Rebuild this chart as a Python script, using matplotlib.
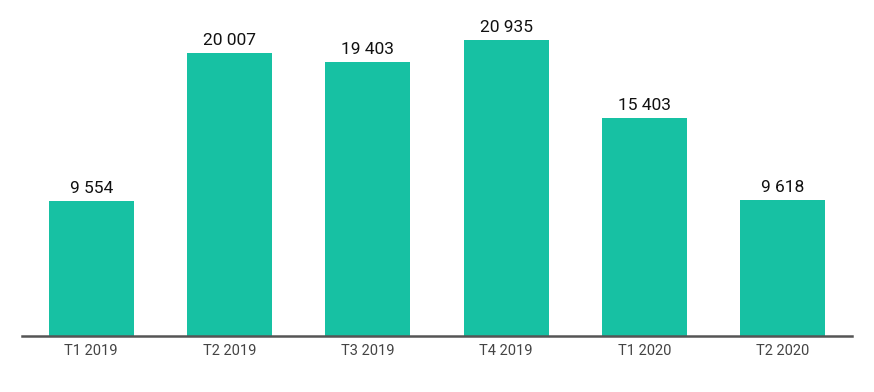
import matplotlib
matplotlib.use("Agg")
import matplotlib.pyplot as plt

plt.rcParams['font.family'] = ['Roboto', 'DejaVu Sans']

categories = ["T1 2019", "T2 2019", "T3 2019", "T4 2019", "T1 2020", "T2 2020"]
values = [9554, 20007, 19403, 20935, 15403, 9618]

fig = plt.figure(figsize=(8.74, 3.92), dpi=100)
# axes: x from 22px to 852px, y from 336px (baseline) up to 10px
ax = fig.add_axes([22 / 874, (392 - 336) / 392, 830 / 874, 326 / 392])

x = list(range(len(categories)))
bars = ax.bar(x, values, width=0.615, color="#17c1a3", zorder=2)

for xi, v in zip(x, values):
    ax.text(xi, v + 350, "{:,}".format(v).replace(",", " "),
            ha="center", va="bottom", fontsize=12.5, color="#111111")

ax.set_xlim(-0.5, len(categories) - 0.5)
ax.set_ylim(0, 326 * 20935 / 296)
ax.set_xticks(x)
ax.set_xticklabels(categories, fontsize=10.5, color="#444444")
ax.tick_params(axis="x", length=0, pad=6)
ax.set_yticks([])

for s in ["top", "right", "left"]:
    ax.spines[s].set_visible(False)
ax.spines["bottom"].set_color("#555555")
ax.spines["bottom"].set_linewidth(1.8)
ax.spines["bottom"].set_zorder(3)

fig.savefig("out.png", dpi=100)
